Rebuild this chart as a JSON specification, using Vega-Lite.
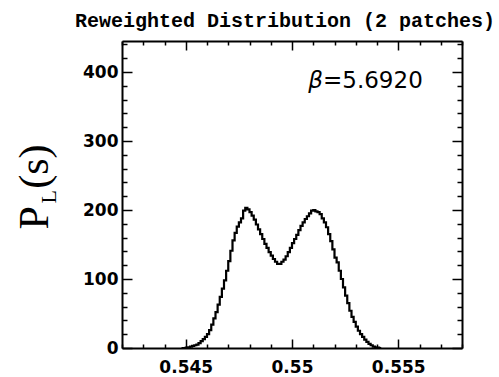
{
  "$schema": "https://vega.github.io/schema/vega-lite/v6.json",
  "width": 340,
  "height": 307,
  "autosize": "none",
  "padding": {"left": 122, "top": 41, "right": 37, "bottom": 29},
  "background": "white",
  "config": {
    "view": {"stroke": null},
    "axis": {"grid": false, "domainColor": "black", "domainWidth": 2, "tickColor": "black", "tickWidth": 1.5, "labelColor": "black", "labelFlush": false, "labelOverlap": false, "labelBound": false}
  },
  "title": {"text": "Reweighted Distribution (2 patches)", "font": "Liberation Mono", "fontSize": 20, "fontWeight": "bold", "color": "black", "anchor": "middle", "dx": -7, "dy": 27, "offset": 15, "baseline": "alphabetic"},
  "datasets": {
    "hist": [
      {"s": 0.5448, "p": 0}, {"s": 0.5449, "p": 0}, {"s": 0.5450, "p": 0.5}, {"s": 0.5451, "p": 1}, {"s": 0.5452, "p": 2},
      {"s": 0.5453, "p": 3}, {"s": 0.5454, "p": 4}, {"s": 0.5455, "p": 5}, {"s": 0.5456, "p": 7}, {"s": 0.5457, "p": 10},
      {"s": 0.5458, "p": 13}, {"s": 0.5459, "p": 16}, {"s": 0.5460, "p": 20}, {"s": 0.5461, "p": 26}, {"s": 0.5462, "p": 34},
      {"s": 0.5463, "p": 43}, {"s": 0.5464, "p": 52}, {"s": 0.5465, "p": 63}, {"s": 0.5466, "p": 74}, {"s": 0.5467, "p": 86},
      {"s": 0.5468, "p": 98}, {"s": 0.5469, "p": 112}, {"s": 0.5470, "p": 126}, {"s": 0.5471, "p": 141}, {"s": 0.5472, "p": 156},
      {"s": 0.5473, "p": 167}, {"s": 0.5474, "p": 176}, {"s": 0.5475, "p": 182}, {"s": 0.5476, "p": 188}, {"s": 0.5477, "p": 199},
      {"s": 0.5478, "p": 203}, {"s": 0.5479, "p": 201}, {"s": 0.5480, "p": 197}, {"s": 0.5481, "p": 192}, {"s": 0.5482, "p": 186},
      {"s": 0.5483, "p": 179}, {"s": 0.5484, "p": 172}, {"s": 0.5485, "p": 165}, {"s": 0.5486, "p": 158}, {"s": 0.5487, "p": 151},
      {"s": 0.5488, "p": 145}, {"s": 0.5489, "p": 139}, {"s": 0.5490, "p": 134}, {"s": 0.5491, "p": 129}, {"s": 0.5492, "p": 125},
      {"s": 0.5493, "p": 122}, {"s": 0.5494, "p": 122}, {"s": 0.5495, "p": 125}, {"s": 0.5496, "p": 128}, {"s": 0.5497, "p": 133},
      {"s": 0.5498, "p": 139}, {"s": 0.5499, "p": 145}, {"s": 0.5500, "p": 152}, {"s": 0.5501, "p": 158}, {"s": 0.5502, "p": 164},
      {"s": 0.5503, "p": 171}, {"s": 0.5504, "p": 177}, {"s": 0.5505, "p": 182}, {"s": 0.5506, "p": 187}, {"s": 0.5507, "p": 191},
      {"s": 0.5508, "p": 195}, {"s": 0.5509, "p": 199}, {"s": 0.5510, "p": 200}, {"s": 0.5511, "p": 198}, {"s": 0.5512, "p": 197},
      {"s": 0.5513, "p": 194}, {"s": 0.5514, "p": 188}, {"s": 0.5515, "p": 182}, {"s": 0.5516, "p": 175}, {"s": 0.5517, "p": 165},
      {"s": 0.5518, "p": 155}, {"s": 0.5519, "p": 143}, {"s": 0.5520, "p": 131}, {"s": 0.5521, "p": 124}, {"s": 0.5522, "p": 112},
      {"s": 0.5523, "p": 100}, {"s": 0.5524, "p": 88}, {"s": 0.5525, "p": 76}, {"s": 0.5526, "p": 65}, {"s": 0.5527, "p": 54},
      {"s": 0.5528, "p": 45}, {"s": 0.5529, "p": 38}, {"s": 0.5530, "p": 31}, {"s": 0.5531, "p": 25}, {"s": 0.5532, "p": 20},
      {"s": 0.5533, "p": 16}, {"s": 0.5534, "p": 12}, {"s": 0.5535, "p": 9}, {"s": 0.5536, "p": 6}, {"s": 0.5537, "p": 4},
      {"s": 0.5538, "p": 2}, {"s": 0.5539, "p": 1}, {"s": 0.5540, "p": 0.5}, {"s": 0.5541, "p": 0}, {"s": 0.5542, "p": 0}
    ],
    "beta": [{"x": 0.55077, "y": 377, "t": "β"}],
    "val": [{"x": 0.55146, "y": 377, "t": "=5.6920"}]
  },
  "layer": [
    {
      "data": {"name": "hist"},
      "mark": {"type": "line", "interpolate": "step-after", "color": "black", "strokeWidth": 2.2},
      "encoding": {
        "x": {"field": "s", "type": "quantitative", "scale": {"domain": [0.542, 0.558], "nice": false, "zero": false},
          "axis": {"orient": "bottom", "title": null, "values": [0.542, 0.543, 0.544, 0.545, 0.546, 0.547, 0.548, 0.549, 0.55, 0.551, 0.552, 0.553, 0.554, 0.555, 0.556, 0.557, 0.558],
            "labelExpr": "abs(datum.value*200 - round(datum.value*200)) < 1e-6 ? format(datum.value, '~g') : ''",
            "tickSize": {"condition": {"test": "abs(datum.value*200 - round(datum.value*200)) < 1e-6", "value": -9}, "value": -4},
            "labelPadding": 20, "labelFont": "DejaVu Sans", "labelFontSize": 17, "labelFontWeight": "bold"}},
        "y": {"field": "p", "type": "quantitative", "scale": {"domain": [0, 445], "nice": false},
          "axis": {"orient": "left", "values": [0, 20, 40, 60, 80, 100, 120, 140, 160, 180, 200, 220, 240, 260, 280, 300, 320, 340, 360, 380, 400, 420, 440],
            "labelExpr": "datum.value % 100 === 0 ? datum.label : ''",
            "tickSize": {"condition": {"test": "datum.value % 100 === 0", "value": -10}, "value": -5},
            "labelPadding": 14, "labelFont": "DejaVu Sans", "labelFontSize": 17, "labelFontWeight": "bold",
            "title": "P \u2009(s)", "titleFont": "Liberation Serif", "titleFontSize": 42, "titleFontWeight": "normal", "titleColor": "black",
            "titleAngle": 270, "titleAlign": "left", "titleBaseline": "alphabetic", "titleX": -75, "titleY": 188}}
      }
    },
    {
      "data": {"name": "hist"},
      "mark": {"type": "line", "interpolate": "step-after", "opacity": 0},
      "encoding": {
        "x": {"field": "s", "type": "quantitative",
          "axis": {"orient": "top", "title": null, "labels": false, "values": [0.542, 0.543, 0.544, 0.545, 0.546, 0.547, 0.548, 0.549, 0.55, 0.551, 0.552, 0.553, 0.554, 0.555, 0.556, 0.557, 0.558],
            "tickSize": {"condition": {"test": "abs(datum.value*200 - round(datum.value*200)) < 1e-6", "value": -9}, "value": -4}}},
        "y": {"field": "p", "type": "quantitative",
          "axis": {"orient": "right", "labels": false, "values": [0, 20, 40, 60, 80, 100, 120, 140, 160, 180, 200, 220, 240, 260, 280, 300, 320, 340, 360, 380, 400, 420, 440],
            "tickSize": {"condition": {"test": "datum.value % 100 === 0", "value": -10}, "value": -5},
            "title": "L", "titleFont": "Liberation Serif", "titleFontSize": 22, "titleFontWeight": "normal", "titleColor": "black",
            "titleAngle": 270, "titleAlign": "left", "titleBaseline": "alphabetic", "titleX": -407, "titleY": 162}}
      }
    },
    {
      "data": {"name": "beta"},
      "mark": {"type": "text", "font": "DejaVu Sans", "fontStyle": "italic", "fontSize": 23, "align": "left", "baseline": "alphabetic", "color": "black"},
      "encoding": {
        "x": {"field": "x", "type": "quantitative", "axis": null},
        "y": {"field": "y", "type": "quantitative", "axis": null},
        "text": {"field": "t"}
      }
    },
    {
      "data": {"name": "val"},
      "mark": {"type": "text", "font": "DejaVu Sans", "fontSize": 23, "align": "left", "baseline": "alphabetic", "color": "black"},
      "encoding": {
        "x": {"field": "x", "type": "quantitative", "axis": null},
        "y": {"field": "y", "type": "quantitative", "axis": null},
        "text": {"field": "t"}
      }
    }
  ],
  "resolve": {"axis": {"x": "independent", "y": "independent"}}
}
